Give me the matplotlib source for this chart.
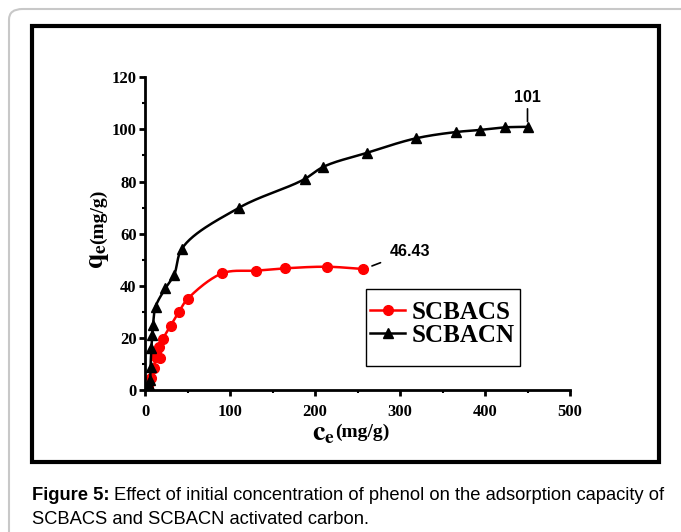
import numpy as np
import matplotlib
matplotlib.use("Agg")
import matplotlib.pyplot as plt
from matplotlib.patches import Rectangle, FancyBboxPatch
from matplotlib.ticker import MultipleLocator

# SCBACS (red circles)
scbacs_ce = [3, 7, 10, 13, 16.9, 17.6, 21.6, 30, 40, 50, 91, 131, 165, 214, 257]
scbacs_qe = [1.5, 4.5, 8.3, 12.8, 16.6, 12.2, 19.6, 24.6, 30, 34.9, 44.8, 45.8, 46.7, 47.3, 46.43]

# SCBACN (black triangles)
scbacn_ce = [5, 6, 6.5, 7.5, 8.5, 9.5, 12.5, 24, 34, 43, 111, 188, 209, 261, 319, 366, 394, 424, 450]
scbacn_qe = [2, 4, 9, 16, 21, 25, 32, 39, 44, 54, 70, 81, 85.5, 91, 96.6, 99, 99.8, 100.8, 101]

x_ticks = [0, 100, 200, 300, 400, 500]
y_ticks = [0, 20, 40, 60, 80, 100, 120]

W, H = 681, 532
AX_LEFT, AX_BOTTOM, AX_W, AX_H = 145, 390, 425, 312.7


def smooth(x, y, n=30, alpha=0.5):
    # Catmull-Rom through the points (in pixel space), for a smooth line
    sx = AX_W / 500.0
    sy = AX_H / 120.0
    P = np.column_stack([np.asarray(x, float) * sx, np.asarray(y, float) * sy])
    P = np.vstack([2 * P[0] - P[1], P, 2 * P[-1] - P[-2]])
    out = []
    for i in range(1, len(P) - 2):
        p0, p1, p2, p3 = P[i - 1], P[i], P[i + 1], P[i + 2]
        t0 = 0.0
        t1 = t0 + np.linalg.norm(p1 - p0) ** alpha
        t2 = t1 + np.linalg.norm(p2 - p1) ** alpha
        t3 = t2 + np.linalg.norm(p3 - p2) ** alpha
        t = np.linspace(t1, t2, n)[:, None]
        a1 = (t1 - t) / (t1 - t0) * p0 + (t - t0) / (t1 - t0) * p1
        a2 = (t2 - t) / (t2 - t1) * p1 + (t - t1) / (t2 - t1) * p2
        a3 = (t3 - t) / (t3 - t2) * p2 + (t - t2) / (t3 - t2) * p3
        b1 = (t2 - t) / (t2 - t0) * a1 + (t - t0) / (t2 - t0) * a2
        b2 = (t3 - t) / (t3 - t1) * a2 + (t - t1) / (t3 - t1) * a3
        c = (t2 - t) / (t2 - t1) * b1 + (t - t1) / (t2 - t1) * b2
        out.append(c)
    C = np.vstack(out)
    return C[:, 0] / sx, C[:, 1] / sy


fig = plt.figure(figsize=(W / 100, H / 100), dpi=100)

# outer grey page frame and black chart box
fig.patches.append(FancyBboxPatch((9 / W, -40 / H), 720 / W, (532 - 9 + 40) / H,
                                  boxstyle="round,pad=0,rounding_size=0.02",
                                  transform=fig.transFigure, fill=False,
                                  ec="#c8c8c8", lw=1.5))
fig.patches.append(Rectangle((32 / W, 1 - 462 / H), 627 / W, 436 / H,
                             transform=fig.transFigure, fill=False,
                             ec="black", lw=3))

ax = fig.add_axes([AX_LEFT / W, 1 - AX_BOTTOM / H, AX_W / W, AX_H / H])

serif = "Liberation Serif"
sans = "Liberation Sans"

xs, ys = smooth(scbacs_ce, scbacs_qe)
ax.plot(xs, ys, color="red", lw=1.8)
ax.plot(scbacs_ce, scbacs_qe, "o", color="red", ms=7)

xs, ys = smooth(scbacn_ce, scbacn_qe, alpha=0.7)
ax.plot(xs, ys, color="black", lw=1.8)
ax.plot(scbacn_ce, scbacn_qe, "^", color="black", ms=7.5)

# legend (frame drawn separately to match the loose box)
ax.plot([], [], "-o", color="red", ms=7, lw=1.8, label="SCBACS")
ax.plot([], [], "-^", color="black", ms=7.5, lw=1.8, label="SCBACN")
ax.legend(loc="upper left",
          bbox_to_anchor=((370 - AX_LEFT) / AX_W, (AX_BOTTOM - 301) / AX_H),
          prop={"family": serif, "weight": "bold", "size": 18},
          frameon=False, handlelength=1.4, borderpad=0, borderaxespad=0,
          labelspacing=0.0, handletextpad=0.25)
ax.add_patch(Rectangle(((366 - AX_LEFT) / AX_W, (AX_BOTTOM - 366) / AX_H),
                       154 / AX_W, 77 / AX_H, transform=ax.transAxes,
                       fill=False, ec="black", lw=1.0))

ax.set_xlim(0, 500)
ax.set_ylim(0, 120)
ax.set_xticks(x_ticks)
ax.set_yticks(y_ticks)
ax.xaxis.set_minor_locator(MultipleLocator(50))
ax.yaxis.set_minor_locator(MultipleLocator(10))
for s in ["top", "right"]:
    ax.spines[s].set_visible(False)
for s in ["left", "bottom"]:
    ax.spines[s].set_linewidth(2)
ax.tick_params(which="major", direction="out", length=4, width=2, pad=2)
ax.tick_params(axis="x", which="major", pad=6)
ax.tick_params(which="minor", direction="out", length=2.5, width=1.5)
for lab in ax.get_xticklabels() + ax.get_yticklabels():
    lab.set_fontfamily(serif)
    lab.set_fontweight("bold")
    lab.set_fontsize(12)

# value annotations
ax.annotate("101", xy=(450, 103), xytext=(450, 109.5),
            ha="center", va="bottom", fontfamily=sans, fontweight="bold",
            fontsize=11.5,
            arrowprops=dict(arrowstyle="-", color="black", lw=1.2,
                            shrinkA=1, shrinkB=0))
ax.annotate("46.43", xy=(267, 47.6), xytext=(288, 50.3),
            ha="left", va="bottom", fontfamily=sans, fontweight="bold",
            fontsize=11.5,
            arrowprops=dict(arrowstyle="-", color="black", lw=1.2,
                            shrinkA=5, shrinkB=0))

# axis labels: big letter with subscript, then smaller unit
fig.text(312 / W, 1 - 440 / H, r"$\mathbf{c}_{\mathbf{e}}$", fontsize=20,
         fontfamily=serif, va="baseline", ha="left",
         math_fontfamily="stix")
fig.text(335 / W, 1 - 437 / H, "(mg/g)", fontsize=14, fontfamily=serif,
         fontweight="bold", va="baseline", ha="left")
fig.text(111 / W, 1 - 269 / H, r"$\mathbf{q}_{\mathbf{e}}$", fontsize=20,
         fontfamily=serif, va="bottom", ha="right", rotation=90,
         math_fontfamily="stix")
fig.text(107 / W, 1 - 244 / H, "(mg/g)", fontsize=14, fontfamily=serif,
         fontweight="bold", va="bottom", ha="right", rotation=90)

# caption
t1 = fig.text(32 / W, 1 - 496 / H, "Figure 5:", fontsize=13.2, fontfamily=sans,
              fontweight="bold", va="center", ha="left")
fig.canvas.draw()
bb = t1.get_window_extent()
fig.text(bb.x1 / W + 4 / W, 1 - 496 / H,
         "Effect of initial concentration of phenol on the adsorption capacity of",
         fontsize=13.2, fontfamily=sans, va="center", ha="left")
fig.text(32 / W, 1 - 519 / H, "SCBACS and SCBACN activated carbon.",
         fontsize=13.2, fontfamily=sans, va="center", ha="left")

fig.savefig("out.png", dpi=100)
